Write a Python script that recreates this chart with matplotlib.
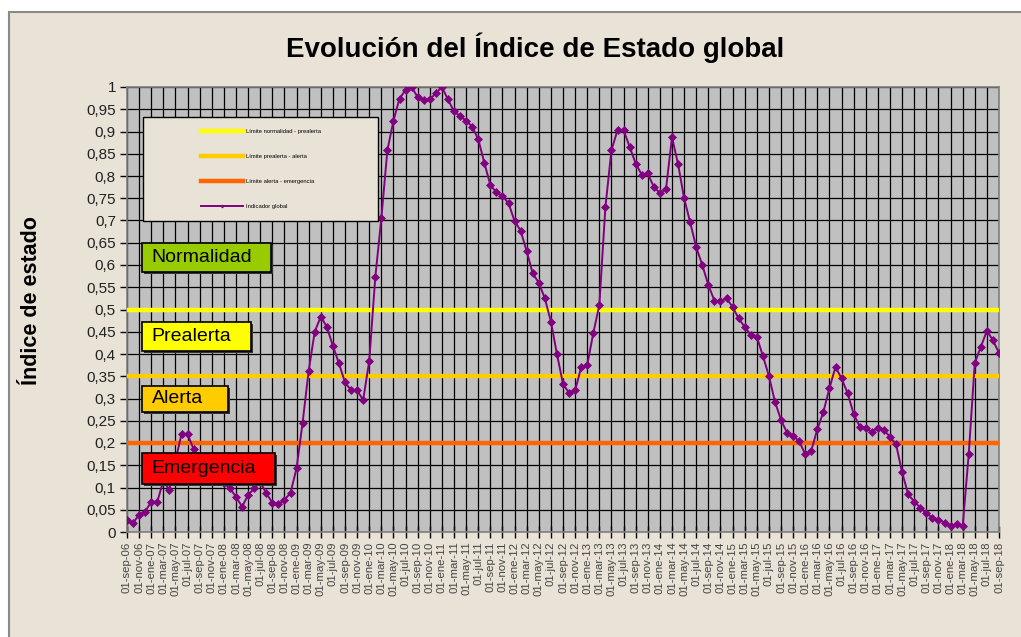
"""Evolución del Índice de Estado global — recreated chart."""

import matplotlib
matplotlib.use("Agg")
import matplotlib.pyplot as plt
from matplotlib.patches import Rectangle

plt.rcParams["font.family"] = ["Liberation Sans", "DejaVu Sans"]

# --- data -----------------------------------------------------------
month_names = ["ene", "feb", "mar", "abr", "may", "jun",
               "jul", "ago", "sep", "oct", "nov", "dic"]
start_year, start_month = 2006, 9   # 01-sep-06
n_months = 145                      # through 01-sep-18

indice = [
    0.027, 0.021, 0.038, 0.046, 0.068, 0.068, 0.115, 0.094, 0.160, 0.220,
    0.220, 0.186, 0.160, 0.140, 0.130, 0.120, 0.110, 0.098, 0.079, 0.057,
    0.083, 0.098, 0.112, 0.087, 0.066, 0.063, 0.072, 0.088, 0.143, 0.246,
    0.362, 0.450, 0.484, 0.461, 0.418, 0.379, 0.336, 0.319, 0.318, 0.297,
    0.384, 0.572, 0.705, 0.858, 0.924, 0.974, 0.993, 1.000, 0.977, 0.971,
    0.972, 0.986, 1.000, 0.972, 0.945, 0.935, 0.924, 0.911, 0.883, 0.830,
    0.780, 0.763, 0.755, 0.739, 0.699, 0.677, 0.631, 0.581, 0.560, 0.525,
    0.473, 0.400, 0.333, 0.312, 0.318, 0.370, 0.375, 0.447, 0.510, 0.730,
    0.858, 0.903, 0.903, 0.866, 0.828, 0.803, 0.806, 0.775, 0.762, 0.770,
    0.887, 0.827, 0.750, 0.696, 0.640, 0.600, 0.555, 0.520, 0.518, 0.525,
    0.506, 0.480, 0.461, 0.443, 0.439, 0.396, 0.351, 0.293, 0.252, 0.223,
    0.216, 0.204, 0.175, 0.183, 0.231, 0.270, 0.323, 0.371, 0.345, 0.312,
    0.265, 0.237, 0.233, 0.225, 0.234, 0.229, 0.214, 0.197, 0.134, 0.085,
    0.068, 0.055, 0.042, 0.032, 0.028, 0.021, 0.014, 0.018, 0.013, 0.175,
    0.380, 0.416, 0.452, 0.431, 0.402,
]

limite_normalidad = 0.50
limite_prealerta = 0.35
limite_alerta = 0.20

# categories: 01-mmm-yy
fechas = []
for k in range(n_months):
    m = (start_month - 1 + k) % 12
    y = start_year + (start_month - 1 + k) // 12
    fechas.append(f"01-{month_names[m]}-{y % 100:02d}")

x = list(range(len(indice)))

# --- figure ---------------------------------------------------------
W, H = 1021, 637
fig = plt.figure(figsize=(W / 100, H / 100), dpi=100, facecolor="white")

# chart-area background with grey frame
frame = Rectangle((9 / W, -0.1), 1.2, (H - 12) / H + 0.1,
                  transform=fig.transFigure, facecolor="#e9e2d7",
                  edgecolor="#8a8a8a", linewidth=1.5, zorder=-10)
fig.patches.append(frame)

L, R, T, B = 127, 999, 87, 532
ax = fig.add_axes([L / W, (H - B) / H, (R - L) / W, (B - T) / H])
ax.set_zorder(1)
ax.set_facecolor("#c0c0c0")
for s in ax.spines.values():
    s.set_color("#808080")
    s.set_linewidth(1.2)

ax.set_xlim(0, len(indice) - 1)
ax.set_ylim(0, 1)

yticks = [i * 0.05 for i in range(21)]
ax.set_yticks(yticks)
ax.set_yticklabels([f"{v:.2f}".rstrip("0").rstrip(".").replace(".", ",") for v in yticks],
                   fontsize=11, color="#222222")
ax.set_xticks(x[::2])
ax.set_xticklabels(fechas[::2], rotation=90, fontsize=8.2, color="#444444",
                   va="top", ha="center")
ax.tick_params(axis="y", direction="out", length=5, width=1, pad=3)
ax.tick_params(axis="x", direction="inout", length=8, width=1, pad=3)

ax.grid(True, color="black", linewidth=0.9)
ax.set_axisbelow(True)

# threshold series
ax.plot(x, [limite_normalidad] * len(x), color="#ffff00", linewidth=3.2,
        label="Límite normalidad - prealerta", zorder=3)
ax.plot(x, [limite_prealerta] * len(x), color="#ffcc00", linewidth=3.2,
        label="Límite prealerta - alerta", zorder=3)
ax.plot(x, [limite_alerta] * len(x), color="#ff6600", linewidth=3.2,
        label="Límite alerta - emergencia", zorder=3)
ax.plot(x, indice, color="#800080", linewidth=1.4, marker="D",
        markersize=3.8, markeredgewidth=0.5, label="Indicador global", zorder=4)

# state boxes (axes fraction)
def fx(px):
    return (px - L) / (R - L)

def fy(py):
    return (B - py) / (B - T)

estados = [
    ("Normalidad", "#99cc00", 141.7, 270.7, 243.3, 272.0),
    ("Prealerta", "#ffff00", 141.7, 251.0, 321.7, 351.0),
    ("Alerta", "#ffcc00", 141.7, 228.3, 385.7, 411.7),
    ("Emergencia", "#ff0000", 141.7, 275.0, 453.0, 484.0),
]
for label, color, x0, x1, y0, y1 in estados:
    ax.add_patch(Rectangle((fx(x0 + 2), fy(y1 + 2)), fx(x1) - fx(x0), fy(y0) - fy(y1),
                           transform=ax.transAxes, facecolor="#333333",
                           edgecolor="none", zorder=5))
    ax.add_patch(Rectangle((fx(x0), fy(y1)), fx(x1) - fx(x0), fy(y0) - fy(y1),
                           transform=ax.transAxes, facecolor=color,
                           edgecolor="black", linewidth=1.2, zorder=6))
    ax.text(fx(x0 + 10), (fy(y0) + fy(y1)) / 2, label, transform=ax.transAxes,
            fontsize=14, color="black", va="center", ha="left", zorder=7)

# legend box
lx0, lx1, ly0, ly1 = 143.3, 378.3, 117.3, 220.7
ax.add_patch(Rectangle((fx(lx0), fy(ly1)), fx(lx1) - fx(lx0), fy(ly0) - fy(ly1),
                       transform=ax.transAxes, facecolor="#e9e2d7",
                       edgecolor="black", linewidth=1.0, zorder=8))
handles, labels = ax.get_legend_handles_labels()
leg = ax.legend(handles, labels, loc="center",
                bbox_to_anchor=((fx(lx0) + fx(lx1)) / 2, (fy(ly0) + fy(ly1)) / 2),
                frameon=False, fontsize=4.2, handlelength=7.2, handletextpad=0.6,
                labelspacing=3.4, markerscale=0.4)
leg.set_zorder(9)

ax.set_ylabel("Índice de estado", fontsize=15.5, fontweight="bold")
ax.yaxis.set_label_coords(fx(42), 0.52)

fig.text(535 / W, (H - 48) / H, "Evolución del Índice de Estado global",
         fontsize=20, fontweight="bold", ha="center", va="center")

fig.savefig("out.png", dpi=100, facecolor=fig.get_facecolor())
